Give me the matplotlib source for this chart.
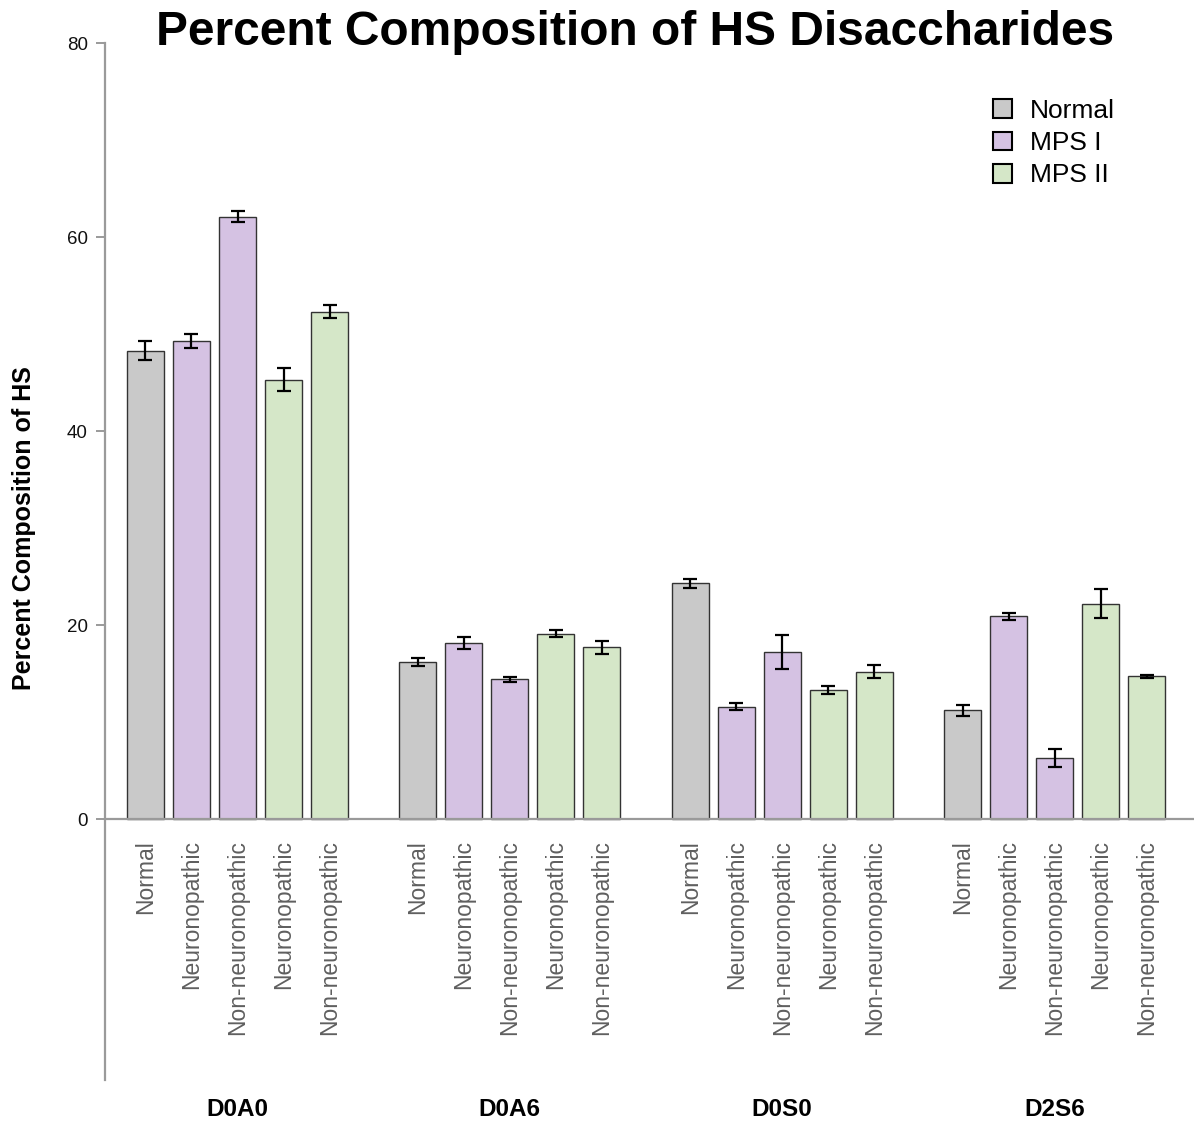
import matplotlib
matplotlib.use("Agg")
import matplotlib.pyplot as plt
import matplotlib.transforms as mtransforms
from matplotlib.patches import Patch
import numpy as np

plt.rcParams['font.family'] = ['Liberation Sans', 'DejaVu Sans']

# Disaccharide groups and the five sample types within each
groups = ["D0A0", "D0A6", "D0S0", "D2S6"]
samples = ["Normal", "Neuronopathic", "Non-neuronopathic", "Neuronopathic", "Non-neuronopathic"]
sample_class = ["Normal", "MPS I", "MPS I", "MPS II", "MPS II"]

# Mean percent composition per group (rows) and sample (columns)
values = [
    [48.3, 49.3, 62.1, 45.3, 52.3],
    [16.2, 18.1, 14.4, 19.1, 17.7],
    [24.3, 11.6, 17.2, 13.3, 15.2],
    [11.2, 20.9, 6.3, 22.2, 14.7],
]
# Error (± SEM) for each bar
errors = [
    [0.95, 0.70, 0.55, 1.15, 0.67],
    [0.40, 0.62, 0.27, 0.36, 0.70],
    [0.45, 0.36, 1.75, 0.43, 0.65],
    [0.55, 0.38, 0.95, 1.48, 0.15],
]

class_colors = {"Normal": "#c9c9c9", "MPS I": "#d5c2e3", "MPS II": "#d5e7c8"}
legend_labels = ["Normal", "MPS I", "MPS II"]

W, H = 1194, 1121
fig = plt.figure(figsize=(W / 100, H / 100), dpi=100)
ax = fig.add_axes([105 / W, 1 - 1080 / H, (W - 105) / W, (1080 - 43) / H])

group_step = 5.92
bar_width = 0.80
axis_gray = "#9a9a9a"

xs, labels = [], []
for g, grp in enumerate(groups):
    pos = g * group_step + np.arange(len(samples))
    cols = [class_colors[c] for c in sample_class]
    ax.bar(pos, values[g], width=bar_width, color=cols, edgecolor="#333333",
           linewidth=1.0, zorder=2)
    ax.errorbar(pos, values[g], yerr=errors[g], fmt="none", ecolor="black",
                elinewidth=1.6, capsize=4.8, capthick=1.6, zorder=3)
    xs.extend(pos)
    labels.extend(samples)

ax.set_xlim(-0.88, 22.79)
ax.set_ylim(-26.9, 80)
ax.set_yticks([0, 20, 40, 60, 80])

# Axis styling: left spine full height, bottom spine moved to zero
for s in ["top", "right"]:
    ax.spines[s].set_visible(False)
ax.spines["left"].set_color(axis_gray)
ax.spines["left"].set_linewidth(1.6)
ax.spines["bottom"].set_position(("data", 0))
ax.spines["bottom"].set_color(axis_gray)
ax.spines["bottom"].set_linewidth(1.6)
ax.spines["bottom"].set_zorder(4)

ax.tick_params(axis="y", direction="out", length=6.5, width=1.4, color=axis_gray,
               labelsize=13.5, labelcolor="#111111", pad=6)
ax.set_xticks(xs)
ax.set_xticklabels(labels, rotation=90, fontsize=16.5, color="#5f5f5f")
ax.tick_params(axis="x", length=0, pad=15)

# Group names beneath the axis
trans = mtransforms.blended_transform_factory(ax.transData, fig.transFigure)
for g, grp in enumerate(groups):
    ax.text(g * group_step + 2, 1 - 1110 / H, grp, transform=trans, ha="center",
            va="center", fontsize=17.5, fontweight="bold")

fig.text(635 / W, 1 - 45 / H, "Percent Composition of HS Disaccharides",
         ha="center", va="baseline", fontsize=34.5, fontweight="bold")
fig.text(24 / W, 1 - 528 / H, "Percent Composition of HS", rotation=90,
         ha="center", va="center", fontsize=18, fontweight="bold")

handles = [Patch(facecolor=class_colors[k], edgecolor="black", linewidth=1.5)
           for k in legend_labels]
ax.legend(handles, legend_labels, loc="upper left",
          bbox_to_anchor=(993 / W, 1 - 99 / H), bbox_transform=fig.transFigure,
          frameon=False, fontsize=19, borderpad=0, borderaxespad=0,
          handlelength=0.72, handleheight=0.72, handletextpad=0.68,
          labelspacing=0.31)

fig.savefig("out.png", dpi=100)
